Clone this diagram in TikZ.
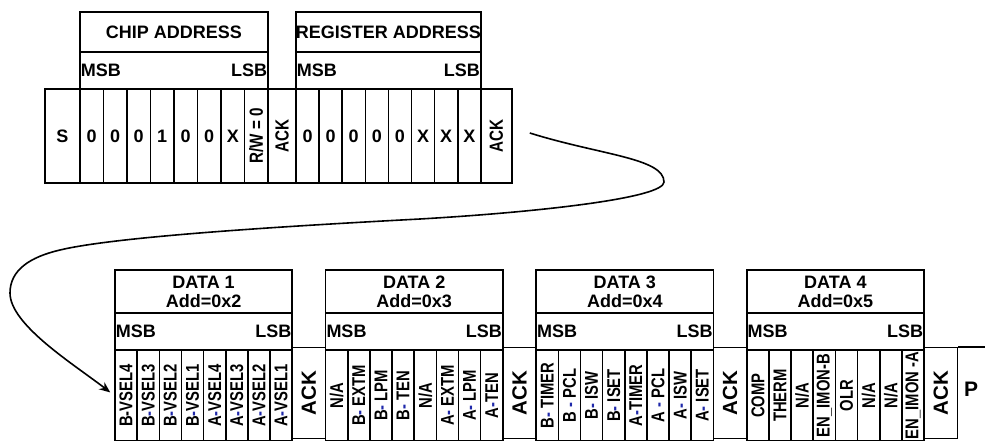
\documentclass[tikz,border=0pt]{standalone}
\usepackage{fontspec}
\usepackage{graphicx}
\setmainfont{Liberation Sans}
\newfontfamily\narrowsans[FakeStretch=0.8]{Liberation Sans}
\usetikzlibrary{arrows.meta}
\definecolor{dashblue}{RGB}{30,40,170}
\newcommand{\bd}{\textcolor{dashblue}{-}}
\begin{document}
\begin{tikzpicture}[x=1pt, y=-1pt,
  cell/.style={draw, line width=1.6pt, inner sep=0pt, font=\bfseries\fontsize{18}{18}\selectfont},
  topbit/.style={cell, minimum width=23.5pt, minimum height=94pt},
  regbit/.style={cell, minimum width=23.1pt, minimum height=94pt},
  vtop/.style={cell, minimum height=94pt, font=\narrowsans\bfseries\fontsize{19}{19}\selectfont},
  lowbit/.style={cell, minimum width=22.15pt, minimum height=91pt, font=\narrowsans\bfseries\fontsize{18.5}{18.5}\selectfont},
  lowack/.style={cell, minimum width=33.4pt, minimum height=91pt, font=\bfseries\fontsize{20.5}{20.5}\selectfont},
  head/.style={cell, align=center, font=\bfseries\fontsize{18}{19}\selectfont},
  msbtxt/.style={inner sep=1.5pt, font=\bfseries\fontsize{18}{18}\selectfont},
  link/.style={line width=1.6pt, -{Stealth[length=11pt, width=9pt]}, shorten >=5pt}
]
  \useasboundingbox (0,0) rectangle (985,441);
  \clip (0,0) rectangle (985,441);

  % Write frame: start, chip address, ack, register address, ack
  \node[cell, minimum width=35pt, minimum height=94pt] (start) at (62.5,136) {S};
  \foreach \v [count=\i] in {0,0,0,1,0,0,X}
    \node[topbit] (ca\i) at (68.25+23.5*\i,136) {\v};
  \node[vtop, minimum width=23.5pt] (rw) at (256.25,136) {\rotatebox{90}{R/W = 0}};
  \node[vtop, minimum width=28pt] (cack) at (282,136) {\rotatebox{90}{ACK}};
  \foreach \v [count=\i] in {0,0,0,0,0,X,X,X}
    \node[regbit] (ra\i) at (284.45+23.1*\i,136) {\v};
  \node[vtop, minimum width=31.2pt] (rack) at (496.4,136) {\rotatebox{90}{ACK}};

  % Address headers
  \node[head, minimum width=188pt, minimum height=40pt] (chip) at (174,32) {CHIP ADDRESS};
  \node[cell, minimum width=188pt, minimum height=37pt] (chipms) at (174,70.5) {};
  \node[msbtxt, right] (chipmsb) at (chipms.west) {MSB};
  \node[msbtxt, left] (chiplsb) at (chipms.east) {LSB};
  \node[head, minimum width=184.8pt, minimum height=40pt] (reg) at (388.4,32) {REGISTER ADDRESS};
  \node[cell, minimum width=184.8pt, minimum height=37pt] (regms) at (388.4,70.5) {};
  \node[msbtxt, right] (regmsb) at (regms.west) {MSB};
  \node[msbtxt, left] (reglsb) at (regms.east) {LSB};

  % Data bytes: headers and ack
  \foreach \k/\x/\ad in {1/115/2, 2/325.6/3, 3/536.2/4, 4/746.8/5} {
    \node[head, minimum width=177.2pt, minimum height=43pt] (data\k) at (\x+88.6,291.5) {DATA \k\\Add=0x\ad};
    \node[cell, minimum width=177.2pt, minimum height=37pt] (ms\k) at (\x+88.6,331.5) {};
    \node[msbtxt, right] (msb\k) at (ms\k.west) {MSB};
    \node[msbtxt, left] (lsb\k) at (ms\k.east) {LSB};
    \node[lowack] (ack\k) at (\x+193.9,393) {\rotatebox{90}{ACK}};
  }

  % Data bits
  \foreach \v [count=\i] in {B-VSEL4, B\bd VSEL3, B\bd VSEL2, B\bd VSEL1, A\bd VSEL4, A\bd VSEL3, A\bd VSEL2, A\bd VSEL1}
    \node[lowbit] (d1b\i) at (103.925+22.15*\i,395.5) {\rotatebox{90}{\v}};
  \foreach \v [count=\i] in {N/A, B\bd\ EXTM, B\bd\ LPM, B\bd\ TEN, N/A, A\bd\ EXTM, A\bd\ LPM, A\bd TEN}
    \node[lowbit] (d2b\i) at (314.525+22.15*\i,395.5) {\rotatebox{90}{\v}};
  \foreach \v [count=\i] in {B\bd\ TIMER, B \bd\ PCL, B\bd\ ISW, B\bd\ ISET, A\bd TIMER, A \bd\ PCL, A\bd\ ISW, A\bd\ ISET}
    \node[lowbit] (d3b\i) at (525.125+22.15*\i,395.5) {\rotatebox{90}{\v}};
  \foreach \v [count=\i] in {COMP, THERM, N/A, EN\_IMON-B, OLR, N/A, N/A, EN\_IMON -A}
    \node[lowbit] (d4b\i) at (735.725+22.15*\i,395.5) {\rotatebox{90}{\v}};

  % Stop
  \node[msbtxt, font=\bfseries\fontsize{21}{21}\selectfont] (stop) at (971,389) {P};
  \draw[line width=1.6pt] (ack4.north east) -- ++(40,0);

  % Continuation from register ack to first data bit
  \draw[link] ([shift={(17pt,3pt)}]rack.east) .. controls (600,155) and (664,158) .. (664,182)
    .. controls (664,198) and (540,212) .. (420,219)
    .. controls (250,228) and (110,238) .. (60,250)
    .. controls (30,257) and (10,270) .. (10,293)
    .. controls (10,325) and (75,365) .. (d1b1.west);
\end{tikzpicture}
\end{document}
